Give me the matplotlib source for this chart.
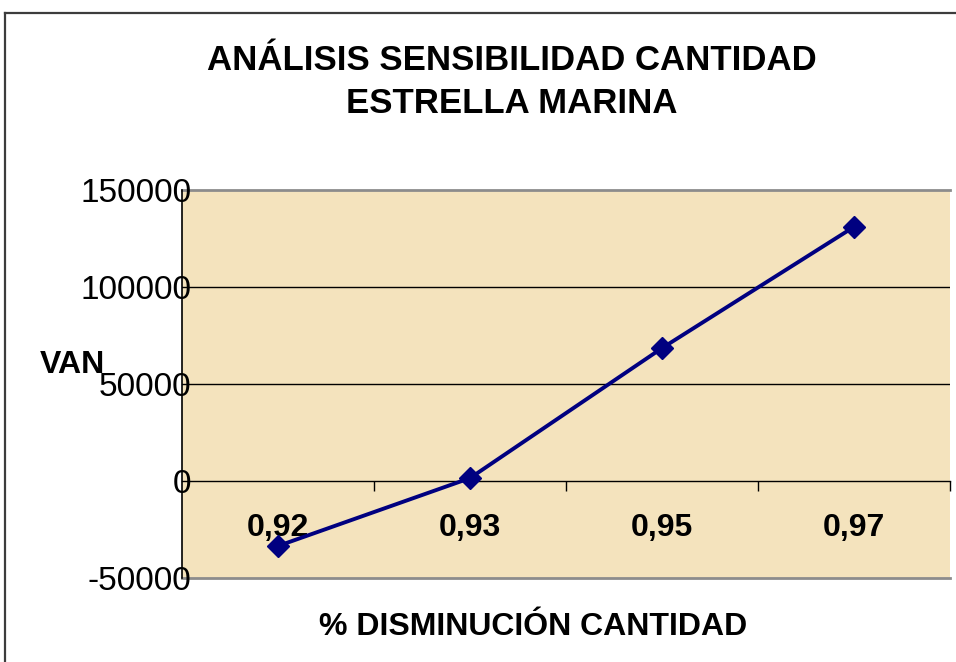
import matplotlib
matplotlib.use("Agg")
import matplotlib.pyplot as plt
from matplotlib.lines import Line2D

categories = ["0,92", "0,93", "0,95", "0,97"]
van = [-33500, 1500, 68500, 131000]
yticks = [-50000, 0, 50000, 100000, 150000]
ytick_labels = ["-50000", "0", "50000", "100000", "150000"]

plt.rcParams['font.family'] = ['Liberation Sans', 'DejaVu Sans']

W, H = 956, 662
fig = plt.figure(figsize=(W / 100, H / 100), dpi=100)
fig.patch.set_facecolor("white")

ax = fig.add_axes([182 / W, 1 - 578 / H, (950 - 182) / W, (578 - 190) / H])
ax.set_facecolor("#F4E3BD")

x = list(range(len(categories)))
ax.set_xlim(-0.5, len(categories) - 0.5)
ax.set_ylim(yticks[0], yticks[-1])

# gridlines
for v in yticks[2:-1]:
    ax.axhline(v, color="black", lw=1.0, zorder=1)
ax.axhline(yticks[0], color="#8c8c8c", lw=2.0, zorder=1, clip_on=False)
ax.axhline(yticks[-1], color="#8c8c8c", lw=2.0, zorder=1, clip_on=False)

ax.plot(x, van, color="#000080", lw=2.8, marker="D", markersize=11,
        markerfacecolor="#000080", markeredgecolor="#000080", zorder=3)

for s in ["top", "right"]:
    ax.spines[s].set_visible(False)
ax.spines["left"].set_color("black")
ax.spines["left"].set_linewidth(1.2)
ax.spines["bottom"].set_position(("data", 0))
ax.spines["bottom"].set_color("black")
ax.spines["bottom"].set_linewidth(1.0)

ax.set_yticks(yticks)
ax.set_yticklabels(ytick_labels)
ax.tick_params(axis="y", length=0, pad=-7, labelsize=24)

ax.set_xticks(x)
ax.set_xticklabels(categories, fontweight="bold", fontsize=23)
ax.set_xticks([i + 0.5 for i in x], minor=True)
ax.tick_params(axis="x", which="major", length=0, pad=23)
ax.tick_params(axis="x", which="minor", length=7, width=1, direction="out", color="black")

fig.text(512 / W, 1 - 82 / H, "ANÁLISIS SENSIBILIDAD CANTIDAD\nESTRELLA MARINA",
         ha="center", va="center", fontsize=25, fontweight="bold", linespacing=1.38)
fig.text(533 / W, 1 - 627 / H, "% DISMINUCIÓN CANTIDAD", ha="center", va="center",
         fontsize=23, fontweight="bold")
fig.text(72 / W, 1 - 365 / H, "VAN", ha="center", va="center",
         fontsize=23, fontweight="bold")

fig.add_artist(Line2D([5 / W, 1], [1 - 13 / H, 1 - 13 / H], color="#3c3c3c", lw=1.6,
                      transform=fig.transFigure))
fig.add_artist(Line2D([5 / W, 5 / W], [0, 1 - 13 / H], color="#3c3c3c", lw=1.6,
                      transform=fig.transFigure))

fig.savefig("out.png", dpi=100)
